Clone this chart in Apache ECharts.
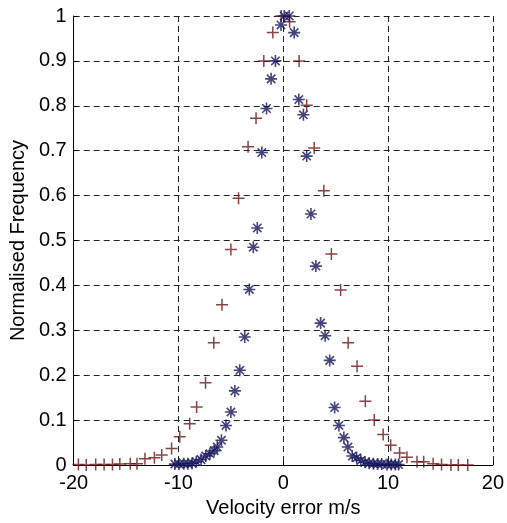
<!DOCTYPE html>
<html>
<head>
<meta charset="utf-8">
<script src="https://cdn.jsdelivr.net/npm/echarts@6/dist/echarts.min.js"></script>
<style>
  html, body { margin: 0; padding: 0; background: #fff; }
  #chart { width: 507px; height: 523px; }
</style>
</head>
<body>
<div id="chart"></div>
<script>
// narrow distribution ('*' markers)
var starX = [-10.35, -9.95, -9.5, -9.1, -8.7, -8.3, -7.85, -7.4, -7.0, -6.6, -6.3, -5.9, -5.47, -5.0, -4.62, -4.15,
  -3.68, -3.24, -2.86, -2.48, -2.05, -1.6, -1.16, -0.75, -0.22, 0.09, 0.57, 1.04, 1.48, 1.92, 2.23, 2.64,
  3.11, 3.56, 3.99, 4.43, 4.9, 5.31, 5.78, 6.16, 6.58, 7.0, 7.4, 7.8, 8.2, 8.6, 9.0, 9.4, 9.9, 10.3, 10.7, 11.0];
var starY = [0.002, 0.002, 0.003, 0.003, 0.004, 0.007, 0.012, 0.02, 0.025, 0.032, 0.04, 0.055, 0.088, 0.118, 0.165, 0.211,
  0.285, 0.391, 0.485, 0.528, 0.696, 0.794, 0.86, 0.9, 0.98, 1.0, 1.0, 0.963, 0.814, 0.78, 0.688, 0.559,
  0.443, 0.316, 0.288, 0.233, 0.128, 0.088, 0.061, 0.04, 0.02, 0.016, 0.01, 0.006, 0.004, 0.003, 0.002, 0.002, 0.001, 0.001, 0.001, 0.001];

// wide distribution ('+' markers)
var plusX = [-19.55, -18.8, -17.9, -17.1, -16.3, -15.6, -14.6, -13.96, -13.2, -12.3, -11.6, -10.66, -9.88, -8.93, -8.27, -7.42,
  -6.63, -5.85, -5.0, -4.27, -3.36, -2.6, -1.86, -1.0, -0.2, 0.6, 1.51, 2.23, 2.95, 3.87, 4.59, 5.47,
  6.19, 7.04, 7.83, 8.68, 9.53, 10.25, 11.1, 11.8, 12.76, 13.4, 14.3, 15.1, 16.0, 16.7, 17.6];
var plusY = [0.001, 0, 0.001, 0.001, 0.001, 0.002, 0.003, 0.003, 0.014, 0.016, 0.022, 0.037, 0.063, 0.092, 0.129, 0.183,
  0.272, 0.357, 0.48, 0.594, 0.709, 0.772, 0.9, 0.963, 1.0, 0.987, 0.9, 0.801, 0.706, 0.611, 0.47, 0.39,
  0.272, 0.22, 0.142, 0.1, 0.068, 0.044, 0.027, 0.017, 0.007, 0.007, 0.003, 0.001, 0, 0, 0];

function pairs(xs, ys) {
  return xs.map(function (x, i) { return [x, ys[i]]; });
}

var fontFam = '"Liberation Sans", Arial, sans-serif';
var gridLine = { show: true, lineStyle: { color: '#222', type: [6, 4], width: 1 } };

var myChart = echarts.init(document.getElementById('chart'));
myChart.setOption({
  animation: false,
  backgroundColor: '#fff',
  grid: { left: 72, right: 11, top: 16, bottom: 57 },
  xAxis: {
    type: 'value',
    min: -20, max: 20, interval: 10,
    name: 'Velocity error m/s',
    nameLocation: 'middle',
    nameGap: 33,
    nameTextStyle: { fontFamily: fontFam, fontSize: 20, color: '#000' },
    axisLine: { show: true, onZero: false, lineStyle: { color: '#000', width: 1 } },
    axisTick: { show: true, inside: true, length: 4, lineStyle: { color: '#000' } },
    axisLabel: { fontFamily: fontFam, fontSize: 20, color: '#000', margin: 8 },
    splitLine: gridLine
  },
  yAxis: {
    type: 'value',
    min: 0, max: 1, interval: 0.1,
    name: 'Normalised Frequency',
    nameLocation: 'middle',
    nameGap: 40,
    nameTextStyle: { fontFamily: fontFam, fontSize: 20, color: '#000' },
    axisLine: { show: true, onZero: false, lineStyle: { color: '#000', width: 1 } },
    axisTick: { show: true, inside: true, length: 4, lineStyle: { color: '#000' } },
    axisLabel: { fontFamily: fontFam, fontSize: 20, color: '#000', margin: 7 },
    splitLine: gridLine
  },
  series: [
    {
      name: 'wide',
      type: 'scatter',
      symbol: 'path://M0,5L10,5M5,0L5,10',
      symbolSize: 12,
      itemStyle: { color: 'none', borderColor: '#6a1414', borderWidth: 1.5 },
      data: pairs(plusX, plusY)
    },
    {
      name: 'narrow',
      type: 'scatter',
      symbol: 'path://M0,5L10,5M5,0L5,10M1.5,1.5L8.5,8.5M1.5,8.5L8.5,1.5',
      symbolSize: 12,
      itemStyle: { color: 'none', borderColor: '#14145c', borderWidth: 1.6 },
      data: pairs(starX, starY)
    }
  ]
});
</script>
</body>
</html>
